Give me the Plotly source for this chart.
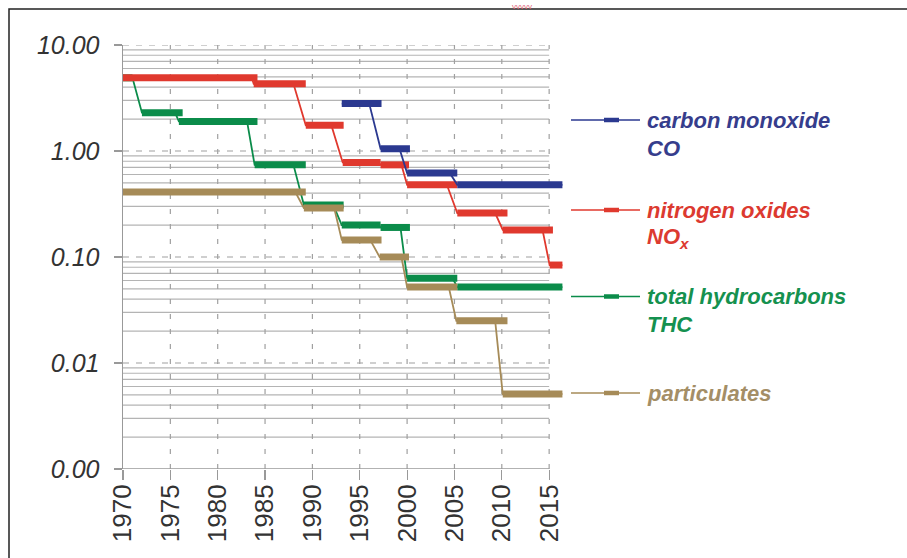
import plotly.graph_objects as go

# ---------------- data ----------------
co_start = [1993.1, 1997.2, 2000.0, 2005.3]
co_end = [1997.3, 2000.3, 2005.3, 2016.4]
co_value = [2.8, 1.05, 0.62, 0.48]
co_drop = [1996.0, 1999.2, 2004.5]

nox_start = [1970.0, 1983.8, 1989.3, 1993.2, 1997.2, 2000.0, 2005.3, 2010.1, 2015.05]
nox_end = [1984.2, 1989.3, 1993.3, 1997.2, 2000.2, 2005.3, 2010.6, 2015.4, 2016.4]
nox_value = [4.9, 4.3, 1.75, 0.78, 0.74, 0.48, 0.26, 0.18, 0.084]
nox_drop = [1983.6, 1988.0, 1992.0, 1997.0, 1999.4, 2004.2, 2009.3, 2014.3]

thc_start = [1970.0, 1972.0, 1975.9, 1983.9, 1989.1, 1993.1, 1997.2, 2000.0, 2005.3]
thc_end = [1971.0, 1976.3, 1984.2, 1989.3, 1993.3, 1997.2, 2000.3, 2005.3, 2016.4]
thc_value = [4.9, 2.3, 1.9, 0.74, 0.31, 0.20, 0.19, 0.063, 0.052]
thc_drop = [1971.0, 1975.5, 1983.1, 1988.0, 1992.2, 1997.0, 1999.3, 2004.8]

pm_start = [1970.0, 1989.1, 1993.1, 1997.1, 2000.0, 2005.2, 2010.1]
pm_end = [1989.3, 1993.3, 1997.3, 2000.2, 2005.3, 2010.6, 2016.4]
pm_value = [0.41, 0.29, 0.145, 0.10, 0.052, 0.025, 0.0051]
pm_drop = [1988.2, 1992.3, 1996.1, 1999.4, 2004.4, 2009.3]

x_ticks = [1970, 1975, 1980, 1985, 1990, 1995, 2000, 2005, 2010, 2015]
y_ticks = [0.001, 0.01, 0.1, 1, 10]
y_tick_text = ["0.00", "0.01", "0.10", "1.00", "10.00"]

legend_line1 = ["carbon monoxide", "nitrogen oxides", "total hydrocarbons", "particulates"]
legend_line2 = ["CO", "NO<sub>x</sub>", "THC", ""]

# ---------------- styles ----------------
C_CO, C_NOX, C_THC, C_PM = "#2b3990", "#e0392e", "#0b8c4a", "#a68b58"
T_CO, T_NOX, T_THC, T_PM = "#363d8c", "#dc3a30", "#15914f", "#a48e66"
GRID = "#b4b4b4"
DASH = "#a0a0a0"

W, H = 907, 558
L, R_PX, T, B = 123, 563, 45, 469
PW, PH = R_PX - L, B - T


def px_x(px):
    return (px - L) / PW


def px_y(py):
    return (B - py) / PH


fig = go.Figure()


def add_series(starts, ends, values, drops, color):
    xs, ys = [], []
    n = len(starts)
    for i in range(n):
        xs += [starts[i], drops[i] if i < n - 1 else ends[i]]
        ys += [values[i], values[i]]
    fig.add_trace(go.Scatter(x=xs, y=ys, mode="lines",
                             line=dict(color=color, width=1.8),
                             showlegend=False, hoverinfo="skip"))
    bx, by = [], []
    for s, e, v in zip(starts, ends, values):
        bx += [s, e, None]
        by += [v, v, None]
    fig.add_trace(go.Scatter(x=bx, y=by, mode="lines",
                             line=dict(color=color, width=7),
                             showlegend=False, hoverinfo="skip"))


add_series(thc_start, thc_end, thc_value, thc_drop, C_THC)
add_series(pm_start, pm_end, pm_value, pm_drop, C_PM)
add_series(nox_start, nox_end, nox_value, nox_drop, C_NOX)
add_series(co_start, co_end, co_value, co_drop, C_CO)

shapes = []
# minor horizontal gridlines (solid)
for d in [0.001, 0.01, 0.1, 1]:
    for k in range(2, 10):
        shapes.append(dict(type="line", xref="x", yref="y", x0=1970, x1=2015,
                           y0=k * d, y1=k * d, layer="below",
                           line=dict(color=GRID, width=1.2)))
# decade lines (dashed)
for v in [0.01, 0.1, 1, 10]:
    shapes.append(dict(type="line", xref="x", yref="y", x0=1970, x1=2015,
                       y0=v, y1=v, layer="below",
                       line=dict(color=DASH, width=1.2, dash="6px,7px")))
# vertical dashed gridlines
for xv in x_ticks[1:]:
    shapes.append(dict(type="line", xref="x", yref="y", x0=xv, x1=xv,
                       y0=0.001, y1=10, layer="below",
                       line=dict(color=DASH, width=1.2, dash="5px,10px")))
# bottom axis line
shapes.append(dict(type="line", xref="x", yref="y", x0=1970, x1=2015,
                   y0=0.001, y1=0.001, layer="below",
                   line=dict(color="#999999", width=1.5)))

# legend symbols
legend_y_px = [120, 210, 296.5, 393]
legend_line_colors = [C_CO, C_NOX, C_THC, C_PM]
legend_text_colors = [T_CO, T_NOX, T_THC, T_PM]
annotations = []
for ly, lc, tc, t1, t2 in zip(legend_y_px, legend_line_colors, legend_text_colors,
                              legend_line1, legend_line2):
    shapes.append(dict(type="line", xref="paper", yref="paper",
                       x0=px_x(571), x1=px_x(640), y0=px_y(ly), y1=px_y(ly),
                       line=dict(color=lc, width=1.5)))
    shapes.append(dict(type="line", xref="paper", yref="paper",
                       x0=px_x(604), x1=px_x(619), y0=px_y(ly), y1=px_y(ly),
                       line=dict(color=lc, width=4.5)))
    annotations.append(dict(xref="paper", yref="paper", x=px_x(645), y=px_y(ly),
                            xanchor="left", yanchor="middle", showarrow=False,
                            text=t1,
                            font=dict(family="Liberation Sans, Arial", size=22,
                                      color=tc, style="italic", weight="bold")))
    if t2:
        annotations.append(dict(xref="paper", yref="paper", x=px_x(645), y=px_y(ly + 28),
                                xanchor="left", yanchor="middle", showarrow=False,
                                text=t2,
                                font=dict(family="Liberation Sans, Arial", size=22,
                                          color=tc, style="italic", weight="bold")))

# outer frame
shapes.append(dict(type="rect", xref="paper", yref="paper",
                   x0=px_x(9), x1=px_x(915), y0=px_y(9), y1=px_y(570),
                   line=dict(color="#222222", width=1.5)))

# small mark at top edge
annotations.append(dict(xref="paper", yref="paper", x=px_x(522), y=px_y(5),
                        xanchor="center", yanchor="middle", showarrow=False,
                        text="vvvvv", font=dict(size=8, color="#e06070")))

fig.update_layout(
    width=W, height=H, autosize=False,
    margin=dict(l=L, r=W - R_PX, t=T, b=H - B, pad=0),
    paper_bgcolor="white", plot_bgcolor="white",
    shapes=shapes, annotations=annotations,
    xaxis=dict(range=[1970, 1970 + PW / 9.47], tickvals=x_ticks,
               ticktext=[str(v) for v in x_ticks], tickangle=-90,
               showgrid=False, zeroline=False, showline=False,
               ticks="outside", ticklen=10, tickcolor="#999999", tickwidth=1.2,
               ticklabelstandoff=-6,
               tickfont=dict(family="Liberation Sans, Arial", size=26, color="#333333")),
    yaxis=dict(type="log", range=[-3, 1], tickvals=y_ticks, ticktext=y_tick_text,
               showgrid=False, zeroline=False, showline=True, linecolor="#999999",
               linewidth=1.5, ticks="outside", ticklen=8, tickcolor="#999999",
               tickwidth=1.2, ticklabelstandoff=9,
               tickfont=dict(family="Liberation Sans, Arial", size=25, color="#333333",
                             style="italic")),
)

fig.write_html("out.html", config={"displayModeBar": False, "staticPlot": True},
               post_script="document.body.style.margin='0';document.body.style.overflow='hidden';")
